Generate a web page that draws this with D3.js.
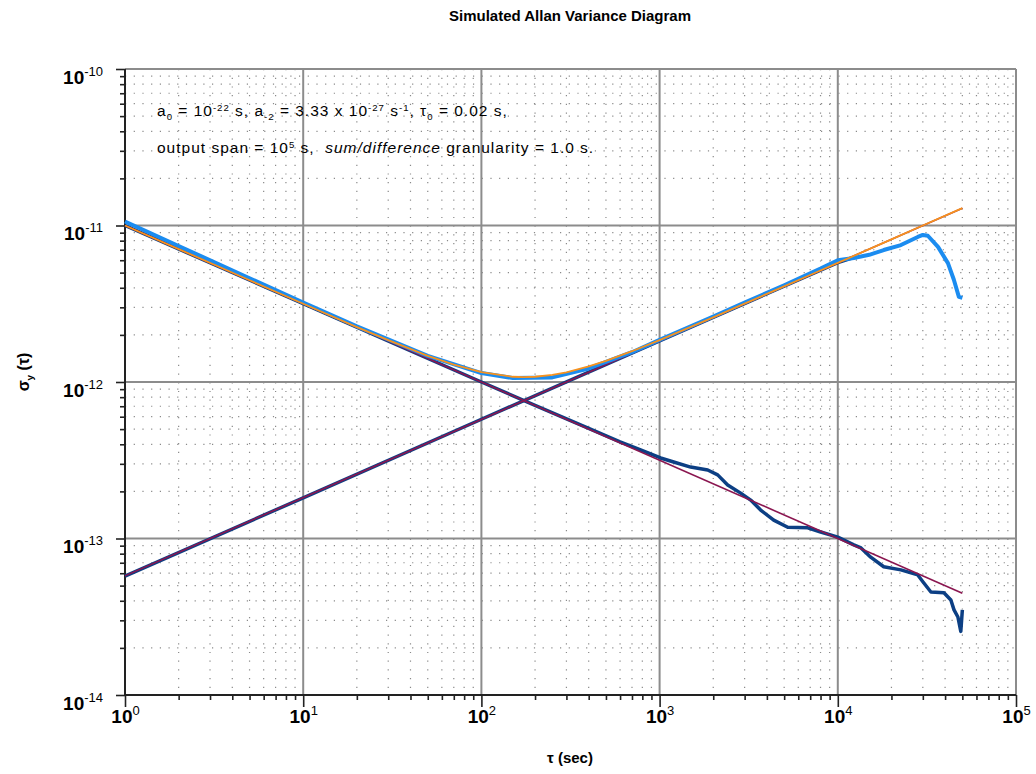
<!DOCTYPE html>
<html>
<head>
<meta charset="utf-8">
<script src="https://cdn.jsdelivr.net/npm/d3@7"></script>
<style>
  body { margin: 0; background: #fff; }
  svg { font-family: "Liberation Sans", Arial, sans-serif; }
  text { white-space: pre; }
</style>
</head>
<body>
<div class="plot"></div>
<script>
/* values: [tau (s), sigma_y] */
const whiteTheory = [[1, 1.0e-11], [5e4, 4.47e-14]];
const walkTheory = [[1, 5.77e-14], [5e4, 1.29e-11]];

const combinedTheory = [
  [1, 1.0e-11], [2, 7.07e-12], [5, 4.47e-12], [10, 3.16e-12], [20, 2.24e-12],
  [30, 1.85e-12], [50, 1.47e-12], [70, 1.29e-12], [100, 1.155e-12], [150, 1.08e-12],
  [173, 1.074e-12], [200, 1.08e-12], [250, 1.11e-12], [300, 1.154e-12], [400, 1.258e-12],
  [500, 1.366e-12], [700, 1.573e-12], [1000, 1.852e-12], [2000, 2.59e-12], [3000, 3.166e-12],
  [5000, 4.08e-12], [7000, 4.83e-12], [1e4, 5.77e-12], [2e4, 8.16e-12], [3e4, 1.0e-11],
  [5e4, 1.29e-11]
];

const combinedSim = [
  [1, 1.06e-11], [2, 7.4e-12], [5, 4.6e-12], [10, 3.22e-12], [20, 2.27e-12],
  [50, 1.47e-12], [100, 1.14e-12], [150, 1.06e-12], [250, 1.07e-12], [400, 1.22e-12],
  [700, 1.55e-12], [1000, 1.86e-12], [2000, 2.62e-12], [3000, 3.22e-12], [5000, 4.15e-12],
  [7000, 4.95e-12], [8000, 5.3e-12], [1e4, 6.0e-12], [1.23e4, 6.2e-12], [1.5e4, 6.5e-12],
  [1.81e4, 6.97e-12], [2.26e4, 7.5e-12], [2.81e4, 8.45e-12], [3.0e4, 8.7e-12], [3.2e4, 8.6e-12],
  [3.65e4, 7.3e-12], [4.15e4, 5.75e-12], [4.48e4, 4.5e-12], [4.78e4, 3.5e-12], [5.0e4, 3.45e-12]
];

const whiteSim = [
  [1, 1.0e-11], [10, 3.17e-12], [100, 1.0e-12], [200, 7.1e-13], [400, 5.05e-13],
  [600, 4.15e-13], [782, 3.68e-13], [1013, 3.27e-13], [1199, 3.08e-13], [1493, 2.86e-13],
  [1862, 2.74e-13], [2118, 2.55e-13], [2410, 2.2e-13], [2851, 1.95e-13], [3245, 1.76e-13],
  [3690, 1.52e-13], [4368, 1.31e-13], [5236, 1.18e-13], [6780, 1.17e-13], [8020, 1.1e-13],
  [1.0e4, 1.02e-13], [1.23e4, 9.1e-14], [1.35e4, 8.7e-14], [1.53e4, 7.6e-14], [1.81e4, 6.6e-14],
  [2.26e4, 6.3e-14], [2.81e4, 5.85e-14], [3.04e4, 5.2e-14], [3.33e4, 4.55e-14], [3.94e4, 4.5e-14],
  [4.31e4, 4.05e-14], [4.49e4, 3.5e-14], [4.72e4, 3.15e-14], [4.9e4, 2.55e-14], [5.0e4, 3.5e-14]
];

const walkSim = [
  [1, 5.75e-14], [10, 1.82e-13], [100, 5.78e-13], [1000, 1.83e-12], [1e4, 5.8e-12], [1.2e4, 6.2e-12]
];

const xDecades = [1, 10, 100, 1000, 1e4, 1e5];
const xExponents = ["0", "1", "2", "3", "4", "5"];
const yDecades = [1e-10, 1e-11, 1e-12, 1e-13, 1e-14];
const yExponents = ["-10", "-11", "-12", "-13", "-14"];

/* svg */
const W = 1036, H = 774;
const margin = {top: 69, right: 20, bottom: 79, left: 125};
const width = W - margin.left - margin.right;
const height = H - margin.top - margin.bottom;

const svg = d3.select(".plot").append("svg")
  .attr("width", W)
  .attr("height", H);

const g = svg.append("g")
  .attr("transform", `translate(${margin.left},${margin.top})`);

/* scales */
const x = d3.scaleLog().domain([1, 1e5]).range([0, width]);
const y = d3.scaleLog().domain([1e-14, 1e-10]).range([height, 0]);

/* minor values 2..9 in each decade */
const minor = decades => {
  const out = [];
  decades.slice(0, -1).forEach(d => { for (let k = 2; k <= 9; k++) out.push(d * k); });
  return out;
};
const xMinor = minor(xDecades);
const yMinor = minor(yDecades.slice().reverse());

/* dotted minor grid */
g.append("g").selectAll("line").data(xMinor).join("line")
  .attr("x1", d => x(d)).attr("x2", d => x(d))
  .attr("y1", 0).attr("y2", height)
  .attr("stroke", "#8a8a8a").attr("stroke-width", 1.2)
  .attr("stroke-dasharray", "1.2,7.5");
g.append("g").selectAll("line").data(yMinor).join("line")
  .attr("y1", d => y(d)).attr("y2", d => y(d))
  .attr("x1", 0).attr("x2", width)
  .attr("stroke", "#8a8a8a").attr("stroke-width", 1.2)
  .attr("stroke-dasharray", "1.2,7.5");

/* solid major grid */
g.append("g").selectAll("line").data(xDecades).join("line")
  .attr("x1", d => x(d)).attr("x2", d => x(d))
  .attr("y1", 0).attr("y2", height)
  .attr("stroke", "#8c8c8c").attr("stroke-width", 2);
g.append("g").selectAll("line").data(yDecades).join("line")
  .attr("y1", d => y(d)).attr("y2", d => y(d))
  .attr("x1", 0).attr("x2", width)
  .attr("stroke", "#8c8c8c").attr("stroke-width", 2);

/* axes: minor ticks then major ticks */
const xMinorAxis = d3.axisBottom(x).tickValues(xMinor).tickSize(5).tickFormat("");
const xMajorAxis = d3.axisBottom(x).tickValues(xDecades).tickSize(12).tickFormat("");
const yMinorAxis = d3.axisLeft(y).tickValues(yMinor).tickSize(5).tickFormat("");
const yMajorAxis = d3.axisLeft(y).tickValues(yDecades).tickSize(9).tickFormat("");

function styleAxis(sel) {
  sel.selectAll(".tick line").attr("stroke", "#222").attr("stroke-width", 1.6);
  sel.select(".domain").remove();
}
g.append("g").attr("transform", `translate(0,${height})`).call(xMinorAxis).call(styleAxis);
const xAx = g.append("g").attr("transform", `translate(0,${height})`).call(xMajorAxis).call(styleAxis);
g.append("g").call(yMinorAxis).call(styleAxis);
const yAx = g.append("g").call(yMajorAxis).call(styleAxis);

/* axis lines */
g.append("line").attr("x1", 0).attr("x2", width).attr("y1", height).attr("y2", height)
  .attr("stroke", "#222").attr("stroke-width", 2);
g.append("line").attr("x1", 0).attr("x2", 0).attr("y1", 0).attr("y2", height)
  .attr("stroke", "#222").attr("stroke-width", 2);

/* power-of-ten labels */
function powerLabel(sel, exp) {
  sel.append("tspan").attr("font-weight", "bold").attr("font-size", 19).text("10");
  sel.append("tspan").attr("font-size", 13).attr("dy", -8).text(exp);
}
xAx.selectAll(".tick").each(function(d, i) {
  d3.select(this).append("text")
    .attr("y", 28).attr("text-anchor", "middle").attr("fill", "#000")
    .call(powerLabel, xExponents[i]);
});
yAx.selectAll(".tick").each(function(d, i) {
  d3.select(this).append("text")
    .attr("x", -22).attr("y", 14).attr("text-anchor", "end").attr("fill", "#000")
    .call(powerLabel, yExponents[i]);
});

/* series */
const line = d3.line().x(d => x(d[0])).y(d => y(d[1]));
function drawSeries(data, color, w) {
  g.append("path").datum(data).attr("d", line)
    .attr("fill", "none").attr("stroke", color).attr("stroke-width", w)
    .attr("stroke-linejoin", "round");
}
drawSeries(walkSim, "#0c3f84", 3.5);
drawSeries(whiteSim, "#0c3f84", 3.5);
drawSeries(walkTheory, "#8a1650", 1.6);
drawSeries(whiteTheory, "#8a1650", 1.6);
drawSeries(combinedSim, "#1b8cf0", 4);
drawSeries(combinedTheory, "#f7921e", 1.8);

/* rich text helper: parts are [text, kind] */
function rich(sel, parts, size) {
  let shift = 0;
  parts.forEach(([str, kind]) => {
    const t = sel.append("tspan").text(str);
    let target = 0;
    if (kind === "sup") { target = -5; t.attr("font-size", size * 0.62); }
    if (kind === "sub") { target = 4; t.attr("font-size", size * 0.62); }
    if (kind === "it") t.attr("font-style", "italic");
    t.attr("dy", target - shift);
    shift = target;
  });
}

/* annotation */
g.append("text").attr("x", 32).attr("y", 47).attr("font-size", 15.5).attr("letter-spacing", 1)
  .call(rich, [["a", ""], ["0", "sub"], [" = 10", ""], ["-22", "sup"], [" s, a", ""], ["-2", "sub"],
    [" = 3.33 x 10", ""], ["-27", "sup"], [" s", ""], ["-1", "sup"], [", \u03c4", ""], ["0", "sub"],
    [" = 0.02 s,", ""]], 15.5);
g.append("text").attr("x", 32).attr("y", 84).attr("font-size", 15.5).attr("letter-spacing", 1)
  .call(rich, [["output span = 10", ""], ["5", "sup"], [" s,  ", ""], ["sum/difference", "it"],
    [" granularity = 1.0 s.", ""]], 15.5);

/* titles */
svg.append("text").attr("x", 570).attr("y", 21).attr("text-anchor", "middle")
  .attr("font-weight", "bold").attr("font-size", 15)
  .text("Simulated Allan Variance Diagram");
svg.append("text").attr("x", 570).attr("y", 763).attr("text-anchor", "middle")
  .attr("font-weight", "bold").attr("font-size", 15)
  .text("\u03c4 (sec)");
svg.append("text").attr("transform", "translate(29,372) rotate(-90)").attr("text-anchor", "middle")
  .attr("font-weight", "bold").attr("font-size", 16)
  .call(rich, [["\u03c3", ""], ["y", "sub"], [" (\u03c4)", ""]], 16);
</script>
</body>
</html>
